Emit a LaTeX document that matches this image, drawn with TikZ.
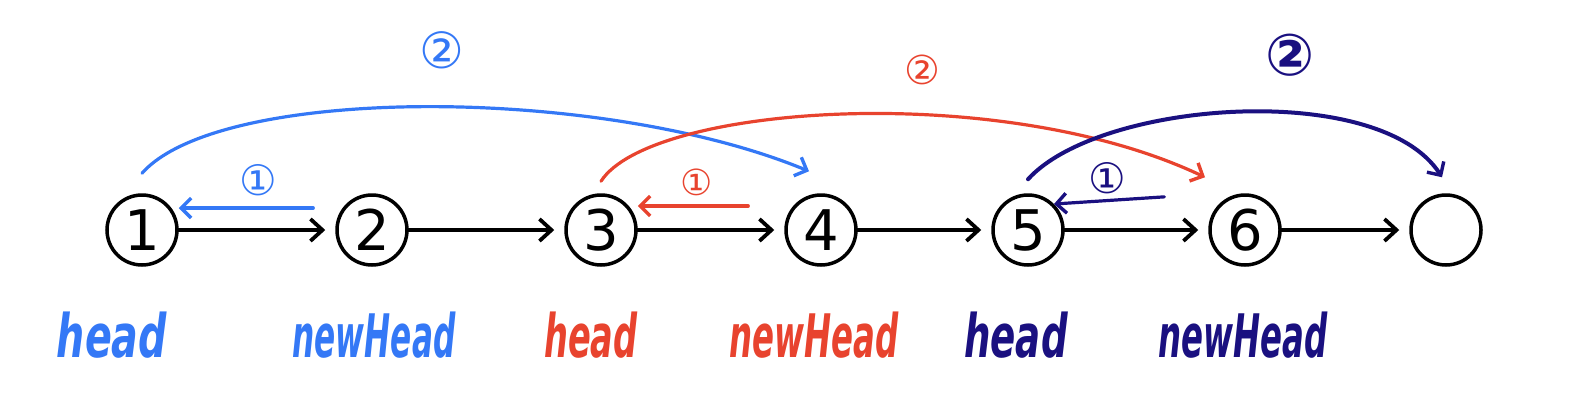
\documentclass[tikz,border=0pt]{standalone}
\usepackage{fontspec}
\setmainfont{DejaVu Sans}
\usetikzlibrary{arrows.meta}
\definecolor{blueink}{HTML}{3478F6}
\definecolor{redink}{HTML}{E8432E}
\definecolor{navyink}{HTML}{1A1080}
\tikzset{
  elem/.style={circle,draw,line width=1.75pt,minimum size=35pt,inner sep=0pt,font=\fontsize{28}{30}\selectfont},
  nxt/.style={line width=1.9pt,line cap=round,-{Straight Barb[length=6pt,width=11pt,line width=1.9pt]},shorten >=5pt},
  ink/.style={line width=1.6pt,line cap=round,-{Straight Barb[length=5pt,width=10pt,line width=1.7pt]}},
  lbl/.style={anchor=base,font=\fontsize{30}{32}\selectfont\bfseries\itshape},
  step1/.style={font=\fontsize{21}{22}\selectfont},
  step2/.style={font=\fontsize{25}{26}\selectfont}
}
\begin{document}
\begin{tikzpicture}[x=0.5pt,y=-0.5pt]
  \useasboundingbox (0,0) rectangle (1585,408);
  % list nodes
  \foreach \i/\x/\t in {1/142/1,2/372/2,3/601/3,4/821/4,5/1028/5,6/1245/6,7/1446/{}}
    \node[elem] (n\i) at (\x,230) {\t};
  \foreach \a/\b in {1/2,2/3,3/4,4/5,5/6,6/7}
    \draw[nxt] (n\a) -- (n\b);
  % step 1: point next back
  \draw[ink,blueink,shorten <=11pt] ([yshift=11pt]n2.west) -- ([yshift=11pt]n1.east);
  \draw[ink,redink,shorten <=18pt] ([yshift=12pt]n4.west) -- ([yshift=12pt]n3.east);
  \draw[ink,navyink,shorten <=22pt] ([yshift=18pt]n6.west) -- (n5.45);
  \node[step1,text=blueink] (s1a) at (258,180) {①};
  \node[step1,text=redink,font=\fontsize{18}{20}\selectfont] (s1b) at (697,182) {①};
  \node[step1,text=navyink] (s1c) at (1107,178) {①};
  % step 2: head jumps to next pair
  \draw[ink,blueink] ([yshift=10pt]n1.north) .. controls (220,85) and (600,85) .. ([shift={(-6pt,11pt)}]n4.north);
  \draw[ink,redink] ([yshift=6pt]n3.north) .. controls (650,105) and (1000,80) .. ([shift={(-20pt,8pt)}]n6.north);
  \draw[ink,navyink,line width=2pt] ([yshift=7pt]n5.north) .. controls (1100,100) and (1380,80) .. ([shift={(-2pt,8pt)}]n7.north);
  \node[step2,text=blueink] (s2a) at (442,50) {②};
  \node[step2,text=redink,font=\fontsize{20}{22}\selectfont] (s2b) at (922,70) {②};
  \node[step2,text=navyink,font=\fontsize{29}{30}\selectfont\bfseries] (s2c) at (1290,55) {②};
  % pointer names
  \node[lbl,text=blueink,xscale=0.66] (h1) at (112,357) {head};
  \node[lbl,text=blueink,xscale=0.52] (nh1) at (374,357) {newHead};
  \node[lbl,text=redink,xscale=0.56] (h2) at (591,357) {head};
  \node[lbl,text=redink,xscale=0.54] (nh2) at (814,357) {newHead};
  \node[lbl,text=navyink,xscale=0.62] (h3) at (1016,357) {head};
  \node[lbl,text=navyink,xscale=0.54] (nh3) at (1243,357) {newHead};
\end{tikzpicture}
\end{document}
